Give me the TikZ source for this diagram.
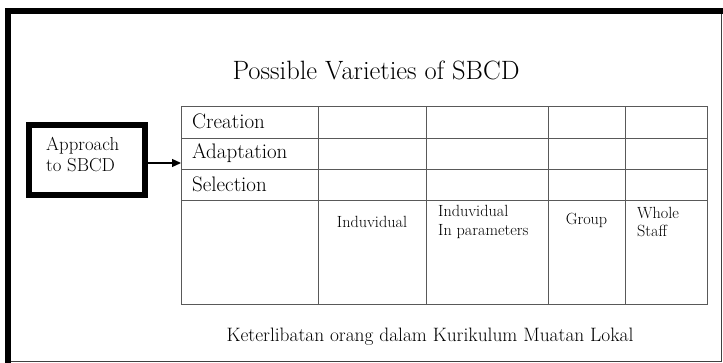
\documentclass[tikz,border=0pt]{standalone}
\usetikzlibrary{arrows.meta}
\begin{document}
\begin{tikzpicture}[x=1pt,y=-1pt,
  grid/.style={draw=black!65,line width=1pt},
  celltext/.style={font=\fontsize{21}{24}\selectfont,anchor=west,inner sep=0pt},
  smalltext/.style={font=\fontsize{16.2}{18.5}\selectfont,align=left,inner sep=0pt},
  boxtext/.style={font=\fontsize{18.8}{21}\selectfont,align=left,inner sep=0pt},
  approachbox/.style={draw=black,line width=6pt,minimum width=116pt,minimum height=70pt,
    inner sep=0pt},
  link/.style={line width=1.3pt,-{Triangle[length=9pt,width=8pt]}}]
\useasboundingbox (0,0) rectangle (723,363);
% page frame: heavy top and left edges, light right and bottom edges
\fill[black] (5,8) rectangle (723,14);
\fill[black] (5,8) rectangle (11,363);
\draw[black!75,line width=1pt] (721.5,14) -- (721.5,361.5) -- (11,361.5);
% title
\node[font=\fontsize{26.5}{30}\selectfont] (title) at (376,70) {Possible Varieties of SBCD};
% table grid
\draw[grid] (181,107) rectangle (707,305);
\foreach \yy in {139,170,201} \draw[grid] (181,\yy) -- (707,\yy);
\foreach \xx in {318,426,548,625} \draw[grid] (\xx,107) -- (\xx,305);
% row labels
\node[celltext] (creation) at (192,121.5) {Creation};
\node[celltext] (adaptation) at (192,153) {Adaptation};
\node[celltext] (selection) at (192,184) {Selection};
% column labels
\node[smalltext,anchor=center] (indiv) at (372,222) {Induvidual};
\node[smalltext,anchor=west] (indivpar) at (438,222) {Induvidual\\In parameters};
\node[smalltext,anchor=center] (group) at (586.5,220) {Group};
\node[smalltext,anchor=west] (whole) at (637,222) {Whole\\Staff};
% approach box and its arrow into the table
\node[approachbox] (approach) at (86.5,160) {};
\node[boxtext,anchor=west] (approachtext) at (46,155) {Approach\\to SBCD};
\coordinate (tableentry) at (181,163);
\draw[link] (approach.east |- tableentry) -- (tableentry);
% caption
\node[font=\fontsize{19.4}{22}\selectfont] (caption) at (430,337) {Keterlibatan orang dalam Kurikulum Muatan Lokal};
\end{tikzpicture}
\end{document}
